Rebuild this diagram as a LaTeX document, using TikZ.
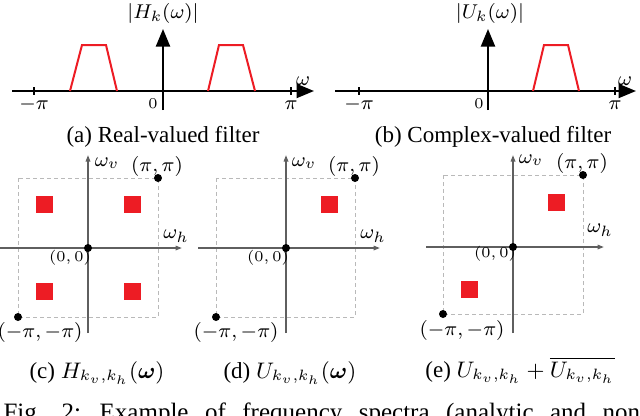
\documentclass[tikz,border=0pt]{standalone}
\usepackage{amsmath}
\usepackage{fontspec}
\setmainfont{Liberation Serif}
\usetikzlibrary{arrows.meta}
\definecolor{specred}{RGB}{237,28,36}
\definecolor{axgray}{RGB}{95,95,95}
\definecolor{boxgray}{RGB}{185,185,185}
\begin{document}
\begin{tikzpicture}[x=0.4pt,y=-0.4pt,
  myaxisA/.style={line width=0.8pt,-{Triangle[length=7pt,width=5.6pt]}},
  mytickA/.style={line width=0.8pt},
  myband/.style={specred,line width=0.8pt,line join=miter},
  myaxisB/.style={axgray,line width=0.6pt,-{Triangle[length=2.6pt,width=1.8pt]}},
  myfreqbox/.style={boxgray,line width=0.4pt,dash pattern=on 1.6pt off 1.2pt},
  myblob/.style={fill=specred,draw=none},
  mydot/.style={fill=black,draw=none},
  mylab/.style={inner sep=0pt,font=\fontsize{8.5}{10}\selectfont},
  mysmall/.style={inner sep=0pt,font=\fontsize{6}{7}\selectfont},
  mysubcap/.style={inner sep=0pt,anchor=base,font=\fontsize{9.2}{11}\selectfont}]
\useasboundingbox (0,0) rectangle (640,415);
\clip (0,0) rectangle (640,415);

% ---------- panel (a)
\coordinate (aL) at (12,91);
\coordinate (aR) at (314,91);
\coordinate (aB) at (163,110);
\coordinate (aT) at (163,29);
\draw[myaxisA] (aL) -- (aR);
\draw[myaxisA] (aB) -- (aT);
\draw[mytickA] (34,87) -- (34,95);
\draw[mytickA] (291,87) -- (291,95);
\draw[myband] (70,91) -- (82,45) -- (106,45) -- (117,91);
\draw[myband] (208,91) -- (219,45) -- (243,45) -- (255,91);
\node[mylab,anchor=base] (amp) at (34,109) {$-\pi$};
\node[mylab,anchor=base] (app) at (291,109) {$\pi$};
\node[mysmall,anchor=base] (azero) at (153,108) {$0$};
\node[mylab,anchor=base] (aw) at (303,85) {$\omega$};
\node[mylab] (aH) at (163,13) {$|H_k(\omega)|$};
\node[mysubcap] (capa) at (163,142) {(a) Real-valued filter};

% ---------- panel (b)
\coordinate (bL) at (335,91);
\coordinate (bR) at (636,91);
\coordinate (bB) at (488,110);
\coordinate (bT) at (488,29);
\draw[myaxisA] (bL) -- (bR);
\draw[myaxisA] (bB) -- (bT);
\draw[mytickA] (359,87) -- (359,95);
\draw[mytickA] (615,87) -- (615,95);
\draw[myband] (533,91) -- (544,45) -- (568,45) -- (579,91);
\node[mylab,anchor=base] (bmp) at (359,109) {$-\pi$};
\node[mylab,anchor=base] (bpp) at (615,109) {$\pi$};
\node[mysmall,anchor=base] (bzero) at (479,108) {$0$};
\node[mylab,anchor=base] (bw) at (625,85) {$\omega$};
\node[mylab] (bU) at (490,13) {$|U_k(\omega)|$};
\node[mysubcap] (capb) at (493,142) {(b) Complex-valued filter};

% ---------- panel (c)
\draw[myfreqbox] (18,178) rectangle (158,317);
\fill[myblob] (35.5,195.5) rectangle (52.5,212.5);
\fill[myblob] (123.5,195.5) rectangle (140.5,212.5);
\fill[myblob] (35.5,282.5) rectangle (52.5,299.5);
\fill[myblob] (123.5,282.5) rectangle (140.5,299.5);
\coordinate (cL) at (0,248);
\coordinate (cR) at (182,248);
\coordinate (cB) at (88,333);
\coordinate (cT) at (88,155);
\draw[myaxisB] (cL) -- (cR);
\draw[myaxisB] (cB) -- (cT);
\fill[mydot] (88,248) circle (1.6pt);
\fill[mydot] (158,178) circle (1.6pt);
\fill[mydot] (18,317) circle (1.6pt);
\node[mylab] (cwv) at (107,163) {$\omega_v$};
\node[mylab] (cpp) at (157,166) {$(\pi,\pi)$};
\node[mylab] (cwh) at (176,236) {$\omega_h$};
\node[mysmall] (czero) at (70,258) {$(0,0)$};
\node[mylab] (cmm) at (40,332) {$(-\pi,-\pi)$};
\node[mysubcap] (capc) at (97,378) {(c) $H_{k_v,k_h}(\boldsymbol{\omega})$};

% ---------- panel (d)
\draw[myfreqbox] (216,178) rectangle (355,317);
\fill[myblob] (320.5,195.5) rectangle (337.5,212.5);
\coordinate (dL) at (198,248);
\coordinate (dR) at (380,248);
\coordinate (dB) at (286,333);
\coordinate (dT) at (286,155);
\draw[myaxisB] (dL) -- (dR);
\draw[myaxisB] (dB) -- (dT);
\fill[mydot] (286,248) circle (1.6pt);
\fill[mydot] (355,178) circle (1.6pt);
\fill[mydot] (216,317) circle (1.6pt);
\node[mylab] (dwv) at (304,163) {$\omega_v$};
\node[mylab] (dpp) at (354,166) {$(\pi,\pi)$};
\node[mylab] (dwh) at (373,236) {$\omega_h$};
\node[mysmall] (dzero) at (268,258) {$(0,0)$};
\node[mylab] (dmm) at (236,332) {$(-\pi,-\pi)$};
\node[mysubcap] (capd) at (290,378) {(d) $U_{k_v,k_h}(\boldsymbol{\omega})$};

% ---------- panel (e)
\draw[myfreqbox] (443,175) rectangle (583,314);
\fill[myblob] (547.5,193.5) rectangle (564.5,210.5);
\fill[myblob] (460.5,280.5) rectangle (477.5,297.5);
\coordinate (eL) at (426,247);
\coordinate (eR) at (604,247);
\coordinate (eB) at (513,333);
\coordinate (eT) at (513,155);
\draw[myaxisB] (eL) -- (eR);
\draw[myaxisB] (eB) -- (eT);
\fill[mydot] (513,247) circle (1.6pt);
\fill[mydot] (583,175) circle (1.6pt);
\fill[mydot] (443,314) circle (1.6pt);
\node[mylab] (ewv) at (531,160) {$\omega_v$};
\node[mylab] (epp) at (582,163) {$(\pi,\pi)$};
\node[mylab] (ewh) at (600,230) {$\omega_h$};
\node[mysmall] (ezero) at (495,254) {$(0,0)$};
\node[mylab] (emm) at (462,330) {$(-\pi,-\pi)$};
\node[mysubcap] (cape) at (520,377) {(e) $U_{k_v,k_h}+\overline{U_{k_v,k_h}}$};

% ---------- figure caption (cut by the lower edge)
\node[inner sep=0pt,anchor=base west,font=\fontsize{10}{12}\selectfont] (figcap) at (3,420)
  {\spaceskip=6.6pt Fig. 2: Example of frequency spectra (analytic and non};
\end{tikzpicture}
\end{document}
